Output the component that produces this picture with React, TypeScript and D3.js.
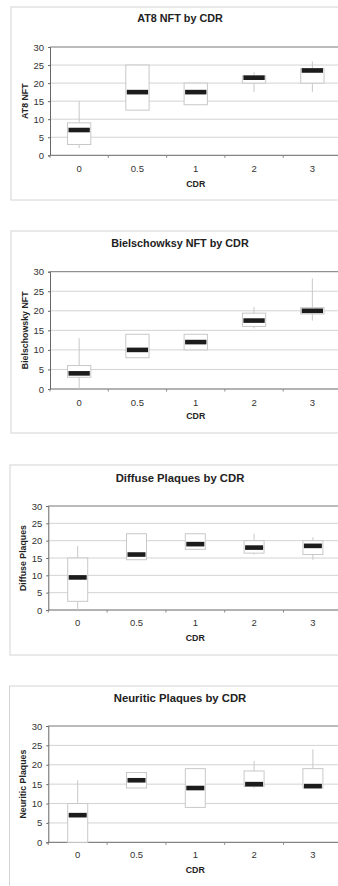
import React, { useEffect, useRef } from "react";
import * as d3 from "d3";

const cdrLevels = ["0", "0.5", "1", "2", "3"];
const yTicks = [0, 5, 10, 15, 20, 25, 30];

// AT8 NFT
const at8Min = [2, 12.5, 14, 17.5, 17.5];
const at8Q1 = [3, 12.5, 14, 20, 20];
const at8Median = [7, 17.5, 17.5, 21.5, 23.5];
const at8Q3 = [9, 25, 20, 22, 24];
const at8Max = [15, 25, 20, 23, 26];

// Bielschowsky NFT
const bielMin = [0, 8, 10, 15.5, 17.5];
const bielQ1 = [3, 8, 10, 16, 19.2];
const bielMedian = [4, 10, 12, 17.5, 20];
const bielQ3 = [6, 14, 14, 19.4, 20.8];
const bielMax = [13, 14, 14, 21, 28.3];

// Diffuse plaques
const diffMin = [0, 14.5, 17.5, 16, 14.5];
const diffQ1 = [2.5, 14.5, 17.5, 16.4, 16];
const diffMedian = [9.4, 16, 19, 18, 18.5];
const diffQ3 = [15, 22, 22, 20, 20];
const diffMax = [18.5, 22, 22, 22, 21];

// Neuritic plaques
const neurMin = [0, 14, 9, 14, 14];
const neurQ1 = [0, 14, 9, 14.4, 14];
const neurMedian = [7, 16, 14, 15, 14.5];
const neurQ3 = [10, 18, 19, 18.4, 19];
const neurMax = [16, 18, 19, 21, 24];

const panels = [
  { title: "AT8 NFT by CDR", yLabel: "AT8 NFT", min: at8Min, q1: at8Q1, med: at8Median, q3: at8Q3, max: at8Max,
    frame: [11, 7, 200], left: 50, band: 58.3, boxW: 23.3, y30: 47, y0: 155.3, titleY: 21.7, tickY: 171.7, cdrY: 186.7, yLabX: 27.5, titleSize: 10.8 },
  { title: "Bielschowksy NFT by CDR", yLabel: "Bielschowsky NFT", min: bielMin, q1: bielQ1, med: bielMedian, q3: bielQ3, max: bielMax,
    frame: [11, 231, 433], left: 50, band: 58.3, boxW: 23.3, y30: 271.7, y0: 389, titleY: 246.7, tickY: 405.7, cdrY: 419.3, yLabX: 27.5, titleSize: 10.8 },
  { title: "Diffuse Plaques by CDR", yLabel: "Diffuse Plaques", min: diffMin, q1: diffQ1, med: diffMedian, q3: diffQ3, max: diffMax,
    frame: [10, 465, 655], left: 48.3, band: 58.8, boxW: 20, y30: 506, y0: 610, titleY: 482, tickY: 625.7, cdrY: 640.7, yLabX: 26, titleSize: 11.3 },
  { title: "Neuritic Plaques by CDR", yLabel: "Neuritic Plaques", min: neurMin, q1: neurQ1, med: neurMedian, q3: neurQ3, max: neurMax,
    frame: [9.5, 686, 900], left: 48.3, band: 58.8, boxW: 20, y30: 726, y0: 842.3, titleY: 701.7, tickY: 858.3, cdrY: 872.7, yLabX: 26, titleSize: 11.3 },
];

const FONT = "'Liberation Sans', Arial, sans-serif";

const App = () => {
  const svgRef = useRef(null);

  useEffect(() => {
    const svg = d3.select(svgRef.current);
    svg.selectAll("*").remove();

    panels.forEach((p) => {
      const g = svg.append("g");
      const right = p.left + p.band * cdrLevels.length;

      g.append("rect")
        .attr("x", p.frame[0]).attr("y", p.frame[1])
        .attr("width", 400).attr("height", p.frame[2] - p.frame[1])
        .attr("fill", "#fff").attr("stroke", "#d4d4d4").attr("stroke-width", 1);

      const x = d3.scaleBand().domain(cdrLevels).range([p.left, right]);
      const y = d3.scaleLinear().domain([0, 30]).range([p.y0, p.y30]);

      // gridlines
      g.selectAll(".grid").data(yTicks.slice(1, -1)).join("line")
        .attr("x1", p.left).attr("x2", right)
        .attr("y1", (d) => y(d)).attr("y2", (d) => y(d))
        .attr("stroke", "#d3d3d3").attr("stroke-width", 1);

      g.append("line")
        .attr("x1", p.left).attr("x2", right + 10)
        .attr("y1", y(30)).attr("y2", y(30))
        .attr("stroke", "#777").attr("stroke-width", 1);

      const yAxis = d3.axisLeft(y).tickValues(yTicks).tickSize(2).tickPadding(4);
      const ya = g.append("g").attr("transform", `translate(${p.left},0)`).call(yAxis);
      ya.select(".domain").attr("stroke", "#666");
      ya.selectAll("line").attr("stroke", "#666");
      ya.selectAll("text").attr("font-family", FONT).attr("font-size", 9.5).attr("fill", "#333");

      const xAxis = d3.axisBottom(x).tickSize(0).tickPadding(0);
      const xa = g.append("g").attr("transform", `translate(0,${p.y0})`).call(xAxis);
      xa.select(".domain").remove();
      xa.selectAll("text").attr("font-family", FONT).attr("font-size", 9.5).attr("fill", "#333")
        .attr("dy", null).attr("y", p.tickY - p.y0);
      g.append("line")
        .attr("x1", p.left).attr("x2", right)
        .attr("y1", p.y0).attr("y2", p.y0)
        .attr("stroke", "#666").attr("stroke-width", 1);
      g.selectAll(".xtick").data(cdrLevels.concat(["end"])).join("line")
        .attr("x1", (d, i) => p.left + i * x.step()).attr("x2", (d, i) => p.left + i * x.step())
        .attr("y1", p.y0).attr("y2", p.y0 + 2.5)
        .attr("stroke", "#888");

      const cx = (i) => x(cdrLevels[i]) + x.bandwidth() / 2;

      // whiskers
      g.selectAll(".whisker").data(cdrLevels).join("line")
        .attr("x1", (d, i) => cx(i)).attr("x2", (d, i) => cx(i))
        .attr("y1", (d, i) => y(p.min[i])).attr("y2", (d, i) => y(p.max[i]))
        .attr("stroke", "#c8c8c8").attr("stroke-width", 1);

      // boxes
      g.selectAll(".box").data(cdrLevels).join("rect")
        .attr("x", (d, i) => cx(i) - p.boxW / 2)
        .attr("y", (d, i) => y(p.q3[i]))
        .attr("width", p.boxW)
        .attr("height", (d, i) => y(p.q1[i]) - y(p.q3[i]))
        .attr("fill", "#fff").attr("stroke", "#c8c8c8").attr("stroke-width", 1);

      // medians
      g.selectAll(".median").data(cdrLevels).join("rect")
        .attr("x", (d, i) => cx(i) - p.boxW / 2 + 1)
        .attr("y", (d, i) => y(p.med[i]) - 2.3)
        .attr("width", p.boxW - 2)
        .attr("height", 4.6)
        .attr("fill", "#1c1c1c");

      g.append("text")
        .attr("x", 180).attr("y", p.titleY)
        .attr("text-anchor", "middle")
        .attr("font-family", FONT).attr("font-weight", "bold").attr("font-size", p.titleSize)
        .attr("fill", "#222").text(p.title);

      g.append("text")
        .attr("x", (p.left + right) / 2).attr("y", p.cdrY)
        .attr("text-anchor", "middle")
        .attr("font-family", FONT).attr("font-weight", "bold").attr("font-size", 8.8)
        .attr("fill", "#222").text("CDR");

      g.append("text")
        .attr("transform", `translate(${p.yLabX},${(p.y0 + p.y30) / 2}) rotate(-90)`)
        .attr("text-anchor", "middle")
        .attr("font-family", FONT).attr("font-weight", "bold").attr("font-size", 8.8)
        .attr("fill", "#222").text(p.yLabel);
    });
  }, []);

  return (
    <svg ref={svgRef} width={338} height={886}
      style={{ position: "absolute", left: 0, top: 0, background: "#fff" }}></svg>
  );
};

export default App;
